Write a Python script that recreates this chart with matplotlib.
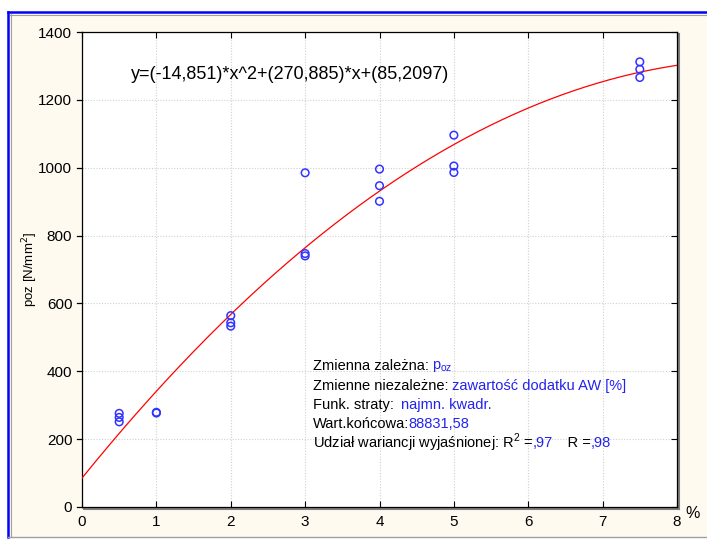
import numpy as np
import matplotlib as mpl
mpl.use('Agg')
import matplotlib.pyplot as plt
from matplotlib.patches import Rectangle
from matplotlib.lines import Line2D

plt.rcParams['font.family'] = ['Liberation Sans', 'DejaVu Sans']

# measured points: AW content [%] vs poz [N/mm2]
x_pts = [0.5, 0.5, 0.5, 1, 1, 2, 2, 2, 3, 3, 3, 4, 4, 4, 5, 5, 5, 7.5, 7.5, 7.5]
y_pts = [276, 264, 251, 279, 277, 564, 543, 533, 985, 747, 740,
         996, 947, 901, 1096, 1005, 986, 1312, 1290, 1266]

# fitted quadratic, coefficients as printed on chart
coef = [-14.851, 270.885, 85.2097]
eq_text = 'y=(-14,851)*x^2+(270,885)*x+(85,2097)'

x_ticks = [0, 1, 2, 3, 4, 5, 6, 7, 8]
y_ticks = [0, 200, 400, 600, 800, 1000, 1200, 1400]

W, H = 707, 539
fig = plt.figure(figsize=(W / 100, H / 100), dpi=100, facecolor='white')

# panel background and frame
bg = Rectangle((8 / W, 2 / H), (W - 8) / W, (H - 14) / H,
               transform=fig.transFigure, facecolor='#fffaf0',
               edgecolor='none', zorder=-5)
fig.patches.append(bg)
fig.add_artist(Line2D([8 / W, 1], [1 - 12 / H, 1 - 12 / H], color='#0000ff', lw=1.8))
fig.add_artist(Line2D([8 / W, 8 / W], [2 / H, 1 - 12 / H], color='#0000ff', lw=1.8))
fig.add_artist(Line2D([10 / W, 1], [1 - 14.5 / H, 1 - 14.5 / H], color='#a0a0a0', lw=0.8))
fig.add_artist(Line2D([10.5 / W, 10.5 / W], [2 / H, 1 - 14 / H], color='#a0a0a0', lw=0.8))
fig.add_artist(Line2D([8 / W, 1], [2 / H, 2 / H], color='#a0a0a0', lw=1))

left, right, top, bottom = 82, 677, 32, 507
ax = fig.add_axes([left / W, 1 - bottom / H, (right - left) / W, (bottom - top) / H])
ax.set_facecolor('white')
ax.set_zorder(3)

# shadow of the plot box
fig.add_artist(Line2D([(right + 2) / W, (right + 2) / W], [1 - (bottom + 2) / H, 1 - (top + 2) / H],
                      color='#808080', lw=1.5))
fig.add_artist(Line2D([(left + 2) / W, (right + 2) / W], [1 - (bottom + 2) / H, 1 - (bottom + 2) / H],
                      color='#808080', lw=1.5))

xx = np.linspace(0, 8, 300)
ax.plot(xx, np.polyval(coef, xx), color='#ff0000', lw=0.9, zorder=3)
ax.scatter(x_pts, y_pts, s=30, facecolors='none', edgecolors='#3333ff', linewidths=1.1, zorder=4)

ax.set_xlim(0, 8)
ax.set_ylim(0, 1400)
ax.set_xticks(x_ticks)
ax.set_yticks(y_ticks)
ax.grid(True, color='#d0d0d0', linestyle=(0, (1, 1.5)), lw=0.8)
ax.set_axisbelow(True)
for s in ax.spines.values():
    s.set_color('black')
    s.set_linewidth(0.9)

ax.tick_params(axis='x', direction='in', top=True, length=4, labelsize=11, pad=6, color='black')
ax.tick_params(axis='y', direction='in', left=False, right=True, length=4, labelsize=11, pad=7)
# outward ticks on left side
for yv in y_ticks:
    ax.plot([-0.07, 0], [yv, yv], color='black', lw=0.9, clip_on=False, zorder=5)

ax.set_ylabel('poz [N/mm$^2$]', fontsize=9.5)
ax.yaxis.set_label_coords(-0.07, 0.5)
fig.text(693 / W, 1 - 513 / H, '%', fontsize=11.5, ha='center', va='center')

ax.text(0.35, 0.91, eq_text, fontsize=13, ha='center', va='center', transform=ax.transAxes)

blue = '#2222ee'
fs = 10.5
x0 = 313
rows = [
    [('Zmienna zależna: ', 'black'), ('p$_{\\mathregular{oz}}$', blue)],
    [('Zmienne niezależne: ', 'black'), ('zawartość dodatku AW [%]', blue)],
    [('Funk. straty:  ', 'black'), ('najmn. kwadr.', blue)],
    [('Wart.końcowa:', 'black'), ('88831,58', blue)],
    [('Udział wariancji wyjaśnionej: R$^{\\mathregular{2}}$ =', 'black'), (',97', blue),
     ('    R =', 'black'), (',98', blue)],
]
ys = [366, 386, 405, 424, 443]
fig.canvas.draw()
renderer = fig.canvas.get_renderer()
for row, yp in zip(rows, ys):
    xp = x0
    for txt, col in row:
        t = fig.text(xp / W, 1 - yp / H, txt, color=col, fontsize=fs, ha='left', va='center',
                     zorder=10)
        bb = t.get_window_extent(renderer)
        xp += bb.width - 1

fig.savefig('out.png', dpi=100, facecolor=fig.get_facecolor())
